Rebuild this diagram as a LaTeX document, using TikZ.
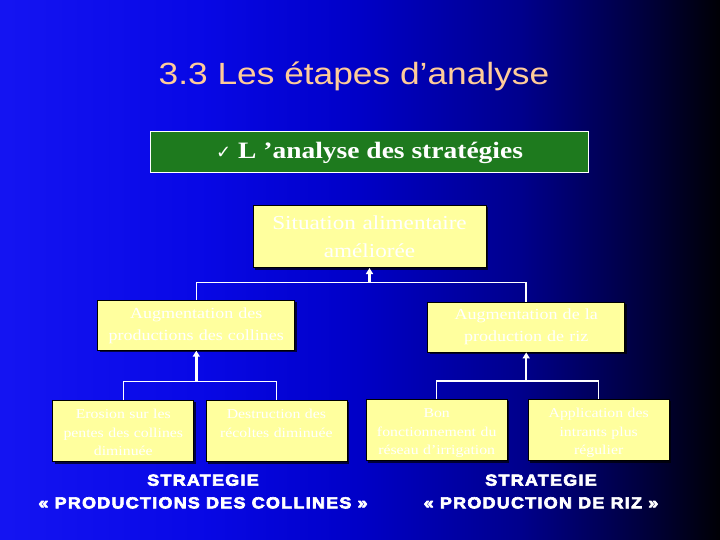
\documentclass[tikz,border=0pt]{standalone}
\usepackage{fontspec}
\setmainfont{Liberation Serif}[FakeStretch=1.17]
\setsansfont{Liberation Sans}[FakeStretch=1.15]
\newfontfamily\checkfont{DejaVu Sans}
\newfontfamily\stratfont{Liberation Sans Bold}[FakeStretch=1.12,LetterSpace=8,FakeBold=4]
\usetikzlibrary{arrows.meta,shadows}

\definecolor{peach}{RGB}{255,204,153}
\definecolor{boxgreen}{RGB}{30,122,30}
\definecolor{paleyellow}{RGB}{255,255,158}
\pgfdeclarehorizontalshading{slidebg}{100bp}{rgb(0bp)=(0.08,0.08,0.95); rgb(25bp)=(0.08,0.08,0.95); rgb(38.9bp)=(0.03,0.03,0.9); rgb(50bp)=(0,0,0.78); rgb(61.1bp)=(0,0,0.55); rgb(69.4bp)=(0,0,0.25); rgb(75bp)=(0,0,0.02); rgb(100bp)=(0,0,0.02)}

\tikzset{
	yellowbox/.style={draw=black, line width=0.8pt, fill=paleyellow, text=white, align=center,
		drop shadow={shadow xshift=2pt, shadow yshift=-2pt, fill=black, opacity=0.7}},
	goalbox/.style={yellowbox, minimum width=233pt, minimum height=62.6pt, text width=231pt,
		inner sep=0pt, font=\fontsize{19.8}{28}\selectfont},
	resultbox/.style={yellowbox, minimum width=197pt, minimum height=50pt, text width=195pt,
		inner sep=0pt, font=\fontsize{15.4}{22}\selectfont},
	actionbox/.style={yellowbox, text width=139pt, inner xsep=1pt, inner ysep=2.5pt,
		text height=16pt, text depth=40.3pt, font=\fontsize{13.5}{18.5}\selectfont},
	stratlabel/.style={text=white, align=center, font=\stratfont\fontsize{16}{22.7}\selectfont},
	bracket/.style={draw=white, line width=1.5pt},
	uparrow/.style={draw=white, line width=2.4pt, -{Triangle[width=7pt,length=6pt]}}
}

\begin{document}
\begin{tikzpicture}[x=1pt, y=-1pt]
	% Background, title, boxes and wires:
	\useasboundingbox (0,0) rectangle (720,540);
	\shade[shading=slidebg] (0,0) rectangle (720,540);
	\node[text=peach, font=\sffamily\fontsize{30.7}{34}\selectfont](T) at (354,76){3.3 Les étapes d’analyse};
	\node[fill=boxgreen, draw=white, line width=1pt, minimum width=438pt, minimum height=41pt, text=white,
		font=\bfseries\fontsize{23.5}{26}\selectfont](A) at (369.6,152.5){{\checkfont\mdseries\fontsize{18}{18}\selectfont ✓}~L ’analyse des stratégies};
	\node[goalbox](Sit) at (369.5,236.3){Situation alimentaire\\améliorée};
	\node[resultbox](AugC) at (196.3,325.3){Augmentation des\\productions des collines};
	\node[resultbox](AugR) at (526.2,327){Augmentation de la\\production de riz};
	\node[actionbox](E1) at (123.3,431){Erosion sur les\\pentes des collines\\diminuée};
	\node[actionbox](E2) at (276.4,431){Destruction des\\récoltes diminuée};
	\node[actionbox](E3) at (436.7,430){Bon\\fonctionnement du\\réseau d’irrigation};
	\node[actionbox](E4) at (598.7,430){Application des\\intrants plus\\régulier};
	\node[stratlabel](S1) at (203,491.5){STRATEGIE\\« PRODUCTIONS DES COLLINES »};
	\node[stratlabel](S2) at (541,491.5){STRATEGIE\\« PRODUCTION DE RIZ »};
	\coordinate (J0) at (369.5,282.4);
	\coordinate (J1) at (196.3,381.5);
	\coordinate (J2) at (526.2,381);
	\draw[bracket] (AugC.north) |- (J0) -| (AugR.north);
	\draw[uparrow] (J0) -- (Sit.south);
	\draw[bracket] (E1.north) |- (J1) -| (E2.north);
	\draw[uparrow] (J1) -- (AugC.south);
	\draw[bracket] (E3.north) |- (J2) -| (E4.north);
	\draw[uparrow] (J2) -- (AugR.south);
\end{tikzpicture}
\end{document}
